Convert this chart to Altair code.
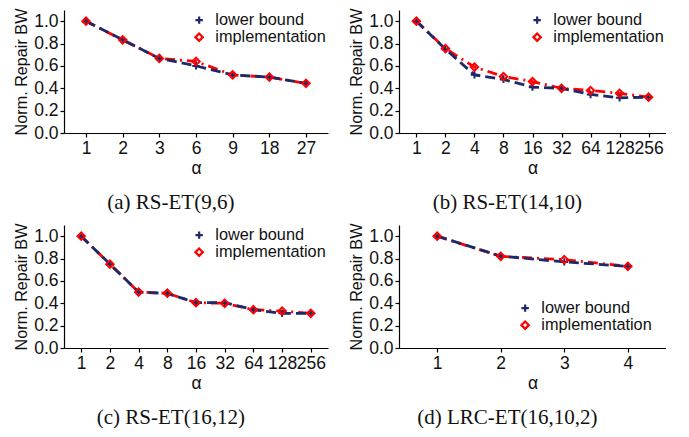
import altair as alt
import pandas as pd

# ---- data ----
series_names = ["lower bound", "implementation"]

a_alpha = ["1", "2", "3", "6", "9", "18", "27"]
a_lower = [1.0, 0.833, 0.667, 0.60, 0.519, 0.50, 0.444]
a_impl = [1.0, 0.833, 0.667, 0.64, 0.519, 0.50, 0.444]

b_alpha = ["1", "2", "4", "8", "16", "32", "64", "128", "256"]
b_lower = [1.0, 0.75, 0.52, 0.48, 0.41, 0.40, 0.345, 0.315, 0.32]
b_impl = [1.0, 0.755, 0.59, 0.505, 0.46, 0.40, 0.38, 0.355, 0.32]

c_alpha = ["1", "2", "4", "8", "16", "32", "64", "128", "256"]
c_lower = [1.0, 0.75, 0.50, 0.488, 0.405, 0.405, 0.343, 0.31, 0.31]
c_impl = [1.0, 0.75, 0.50, 0.49, 0.405, 0.40, 0.343, 0.33, 0.31]

d_alpha = ["1", "2", "3", "4"]
d_lower = [1.0, 0.822, 0.77, 0.73]
d_impl = [1.0, 0.82, 0.79, 0.73]

y_ticks = [0.0, 0.2, 0.4, 0.6, 0.8, 1.0]

NAVY = "#1b2a6b"
RED = "#ff0000"
PLUS = "M-1,0H1M0,-1V1"

H = 123
FS = 17.5


def frame(alpha, lower, impl):
    rows = []
    for a, v in zip(alpha, lower):
        rows.append({"alpha": a, "value": v, "series": series_names[0]})
    for a, v in zip(alpha, impl):
        rows.append({"alpha": a, "value": v, "series": series_names[1]})
    return pd.DataFrame(rows)


def panel(alpha, lower, impl, caption, legend_orient, legend_offset, width):
    df = frame(alpha, lower, impl)
    x = alt.X(
        "alpha:O",
        sort=alpha,
        scale=alt.Scale(type="point", padding=0.6),
        axis=alt.Axis(title="α", labelAngle=0, titlePadding=3, titleFontSize=FS),
    )
    y = alt.Y(
        "value:Q",
        scale=alt.Scale(domain=[0, 1.1], nice=False),
        axis=alt.Axis(title="Norm. Repair BW", values=y_ticks, format=".1f",
                      titlePadding=4, titleFontSize=16.2),
    )
    base = alt.Chart(df).encode(x=x, y=y)
    line_lb = base.transform_filter(alt.datum.series == series_names[0]).mark_line(
        color=NAVY, strokeWidth=2.8, strokeDash=[10, 5])
    line_im = base.transform_filter(alt.datum.series == series_names[1]).mark_line(
        color=RED, strokeWidth=2.8, strokeDash=[10, 5, 2, 5])
    leg = dict(title=None, orient=legend_orient, offset=legend_offset,
               labelFontSize=16.3, labelFont="Liberation Sans",
               labelColor="#111", symbolStrokeWidth=2.2,
               rowPadding=0, symbolSize=55, labelOffset=8, padding=0)
    pts = base.mark_point(filled=False, strokeWidth=2, opacity=1).encode(
        color=alt.Color(
            "series:N",
            scale=alt.Scale(domain=series_names, range=[NAVY, RED]),
            legend=alt.Legend(**leg),
        ),
        shape=alt.Shape(
            "series:N",
            scale=alt.Scale(domain=series_names, range=[PLUS, "diamond"]),
            legend=alt.Legend(**leg),
        ),
        size=alt.value(55),
    )
    return alt.layer(line_im, line_lb, pts).properties(
        width=width, height=H,
        title=alt.TitleParams(caption, orient="bottom", font="Liberation Serif",
                              fontSize=21, fontWeight="normal", color="#111",
                              offset=15, anchor="middle", frame="bounds"),
    )


pa = panel(a_alpha, a_lower, a_impl, "(a)  RS-ET(9,6)", "top-right", 2, 264)
pb = panel(b_alpha, b_lower, b_impl, "(b)  RS-ET(14,10)", "top-right", 2, 267)
pc = panel(c_alpha, c_lower, c_impl, "(c)  RS-ET(16,12)", "top-right", 2, 264)
pd_ = panel(d_alpha, d_lower, d_impl, "(d)  LRC-ET(16,10,2)", "bottom-right", 14, 267)

row1 = alt.hconcat(pa, pb, spacing=20).resolve_scale(
    color="independent", shape="independent")
row2 = alt.hconcat(pc, pd_, spacing=20).resolve_scale(
    color="independent", shape="independent")

chart = alt.vconcat(row1, row2, spacing=10).resolve_scale(
    color="independent", shape="independent"
).properties(
    padding={"left": 5, "top": 0, "right": 0, "bottom": 0}
).configure_view(stroke=None).configure_axis(
    labelFont="Liberation Sans", titleFont="Liberation Sans",
    labelFontSize=FS, titleFontWeight="normal",
    labelColor="#111", titleColor="#111", domainColor="#000", tickColor="#000",
    domainWidth=1.2, tickWidth=1.2, tickSize=4, labelPadding=2, grid=False,
)

chart.save("out.html", embed_options={"renderer": "svg", "actions": False})
